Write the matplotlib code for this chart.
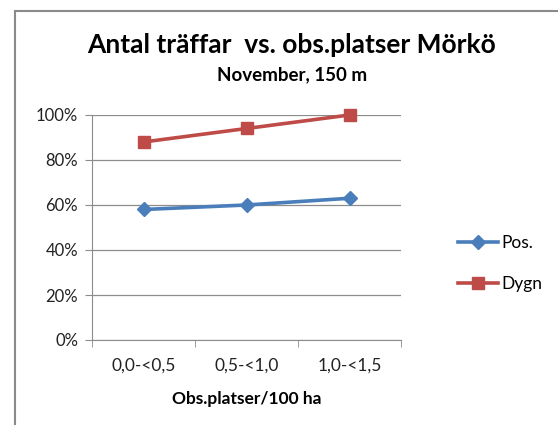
import matplotlib.pyplot as plt
from matplotlib.lines import Line2D
from matplotlib.ticker import FixedLocator, PercentFormatter

categories = ["0,0-<0,5", "0,5-<1,0", "1,0-<1,5"]
pos_values = [58, 60, 63]
dygn_values = [88, 94, 100]
y_ticks = [0, 20, 40, 60, 80, 100]

BLUE = "#4A7EBB"
RED = "#BE4B48"
GRID = "#8C8C8C"

plt.rcParams["font.family"] = ["Lato", "DejaVu Sans"]

W, H = 558, 425
fig = plt.figure(figsize=(W / 100, H / 100), dpi=100)

# chart frame (only top/left visible in the reference)
fig.add_artist(Line2D([15 / W, 15 / W], [0, 1 - 11 / H], color="#8A8A8A", lw=1.5))
fig.add_artist(Line2D([15 / W, 1], [1 - 11 / H, 1 - 11 / H], color="#8A8A8A", lw=1.5))

ax = fig.add_axes([92 / W, 85 / H, (401 - 92) / W, (340 - 115) / H])
x = list(range(len(categories)))

ax.plot(x, pos_values, color=BLUE, lw=2.6, marker="D", ms=7, label="Pos.", clip_on=False)
ax.plot(x, dygn_values, color=RED, lw=2.6, marker="s", ms=8, label="Dygn", clip_on=False)

ax.set_xlim(-0.5, len(categories) - 0.5)
ax.set_ylim(0, 100)
ax.set_yticks(y_ticks)
ax.yaxis.set_major_formatter(PercentFormatter(decimals=0))
ax.set_xticks(x)
ax.set_xticklabels(categories)
ax.xaxis.set_minor_locator(FixedLocator([-0.5, 0.5, 1.5, 2.5]))
ax.tick_params(axis="x", which="major", length=0, pad=13, labelsize=12.5, colors="#222222")
ax.tick_params(axis="x", which="minor", length=5, color=GRID, direction="out")
ax.tick_params(axis="y", length=5, color=GRID, direction="out", pad=5, labelsize=12,
               labelcolor="#222222")
ax.grid(axis="y", color=GRID, lw=0.9)
ax.set_axisbelow(True)
for s in ["top", "right"]:
    ax.spines[s].set_visible(False)
for s in ["left", "bottom"]:
    ax.spines[s].set_color(GRID)
ax.set_xlabel("Obs.platser/100 ha", fontsize=12.5, fontweight="bold", labelpad=12)

fig.text(292 / W, 1 - 45 / H, "Antal träffar  vs. obs.platser Mörkö", ha="center",
         va="center", fontsize=19, fontweight="bold")
fig.text(292 / W, 1 - 75 / H, "November, 150 m", ha="center", va="center",
         fontsize=13.5, fontweight="bold")

ax.legend(loc="center left", bbox_to_anchor=(1.135, 0.34), frameon=False, fontsize=12.5,
          handlelength=2.3, labelspacing=1.45, handletextpad=0.2)

fig.savefig("out.png", dpi=100)
